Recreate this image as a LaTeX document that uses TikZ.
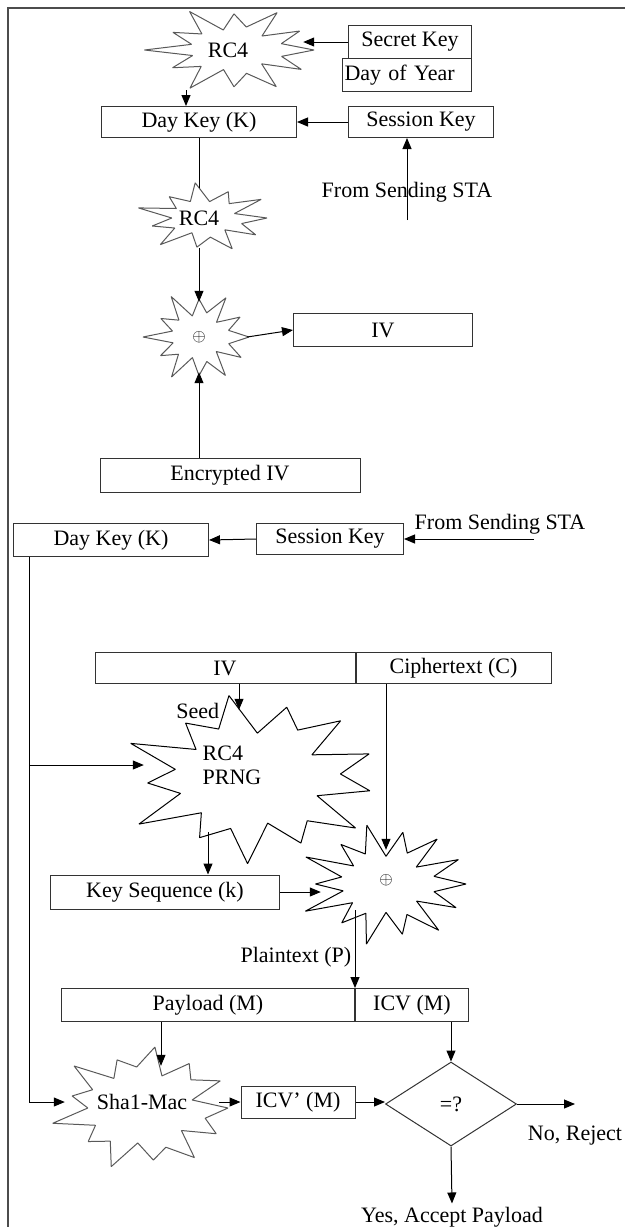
\documentclass[tikz,border=0pt]{standalone}
\usepackage{fontspec}
\setmainfont{Liberation Serif}
\usepackage{tikz}
\usetikzlibrary{shapes.geometric, arrows.meta, positioning}

\tikzset{
  box/.style={draw=black!80, rectangle, line width=1pt, inner sep=0pt, minimum height=33pt},
  blob/.style={ellipse, inner sep=0pt},
  arr/.style={-{Triangle[length=11pt,width=9pt]}, line width=1pt},
  wire/.style={line width=1pt},
  burstline/.style={line width=1pt, line join=bevel, gray!70!black},
  burst cut/.store in=\burstcut, burst cut=0.45,
  burst turn/.store in=\burstturn, burst turn=0,
  xorsign/.style={font=\fontsize{19}{19}\selectfont},
}

% jagged star drawn round a centre: [opts]{centre}{rx}{ry}{corners}
\newcommand{\burst}[5][]{%
  \pgfmathtruncatemacro\burstlast{#5-1}%
  \draw[burstline, shift={(#2)}, #1] ({cos(\burstturn)*#3},{sin(\burstturn)*#4})
    \foreach \k in {1,...,\burstlast} {
      -- ({cos(\k*360/#5+\burstturn)*#3*(1-\burstcut*mod(\k,2))*(1+0.12*sin(\k*97))},
          {sin(\k*360/#5+\burstturn)*#4*(1-\burstcut*mod(\k,2))*(1+0.12*sin(\k*97))})
    } -- cycle;}

\begin{document}
\begin{tikzpicture}[x=1pt, y=-1pt, font=\fontsize{22}{24}\selectfont]
        \useasboundingbox (0,0) rectangle (625,1227);
        \draw[line width=1.5pt, black!70] (8,1227) -- (8,8) -- (625,8);

        % Day key and IV recovery
        \node[box, minimum width=123pt] (secA) at (410,42) {Secret Key};
        \node[box, minimum width=129pt, text width=125pt, inner xsep=2pt, align=left] (yrA) at (407,75) {Day of Year};
        \node[blob, minimum width=150pt, minimum height=80pt] (rcA) at (228,50) {RC4};
        \burst[xshift=6pt]{rcA.center}{80}{40}{24}
        \node[box, minimum width=195pt, minimum height=31pt] (dayA) at (199,122) {Day Key (K)};
        \node[box, minimum width=145pt, minimum height=31pt] (sesA) at (421,122) {Session Key};
        \node (fromA) at (407,192) {From Sending STA};
        \coordinate (srcA) at (407,220);
        \node[blob, minimum width=110pt, minimum height=60pt] (rcB) at (199,218) {RC4};
        \burst[xshift=6pt]{rcB.center}{62}{32}{22}
        \node[blob, xorsign, minimum width=96pt, minimum height=70pt] (xorA) at (199,337) {$\oplus$};
        \burst{xorA.center}{50}{42}{24}
        \node[box, minimum width=179pt] (ivA) at (383,330) {IV};
        \node[box, minimum width=260pt, minimum height=34pt] (encA) at (230,475) {Encrypted IV};

        \draw[arr] (secA.west) -- (secA.west -| rcA.east);
        \draw[arr] ([xshift=-13pt]dayA.north |- rcA.south) -- ([xshift=-13pt]dayA.north);
        \draw[arr] (sesA.west) -- (dayA.east);
        \draw[arr] (srcA) -- (srcA |- sesA.south);
        \draw[wire] (dayA.south) -- (rcB.north);
        \draw[arr] (rcB.south) -- (xorA.north);
        \draw[arr] (xorA.east) -- (ivA.west);
        \draw[arr] (encA.north -| xorA.south) -- (xorA.south);

        % Decryption and integrity check
        \node[box, minimum width=195pt] (dayB) at (111,540) {Day Key (K)};
        \node[box, minimum width=147pt, minimum height=31pt] (sesB) at (330,539) {Session Key};
        \node (fromB) at (500,524) {From Sending STA};
        \coordinate (srcB) at (534,539);
        \coordinate (tap) at ([xshift=16pt]dayB.south west);
        \draw[arr] (srcB) -- (sesB.east);
        \draw[arr] (sesB.west) -- (dayB.east);

        \node[box, minimum width=260pt, minimum height=31pt] (ivB) at (225,668) {IV};
        \node[box, minimum width=195pt, minimum height=31pt, anchor=west] (ctB) at (ivB.east) {Ciphertext (C)};
        \node[blob, align=left, minimum width=176pt, minimum height=110pt] (prng) at (232,765) {RC4\\PRNG};
        \burst[black, burst cut=0.36, burst turn=-18, xshift=22pt, yshift=-13pt]{prng.center}{121}{78}{26}
        \node[box, minimum width=229pt, minimum height=34pt] (keyS) at (165,892) {Key Sequence (k)};
        \node[blob, xorsign, minimum width=130pt, minimum height=60pt] (xorB) at (386,880) {$\oplus$};
        \burst[black, yshift=-4pt]{xorB.center}{80}{56}{28}

        \draw[arr] ([xshift=14pt]ivB.south) -- ([xshift=14pt]ivB.south |- prng.north)
            node[at end, left, xshift=-16pt, yshift=-1pt] {Seed};
        \draw[arr] (tap |- prng.west) -- (prng.west);
        \draw[arr] ([xshift=-24pt, yshift=-12pt]prng.south) -- ([xshift=-24pt]prng.south |- keyS.north);
        \draw[arr] (ctB.south -| xorB.north) -- (xorB.north);
        \draw[arr] (keyS.east) -- (keyS.east -| xorB.west);

        \node[box, minimum width=293pt] (pay) at (208,1005) {Payload (M)};
        \node[box, minimum width=113pt, anchor=west] (icv) at (pay.east) {ICV (M)};
        \draw[arr] (xorB.south -| pay.north east) -- (pay.north east)
            node[pos=0.6, left] {Plaintext (P)};

        \node[blob, minimum width=154pt, minimum height=72pt] (sha) at (142,1102) {Sha1-Mac};
        \burst[burst cut=0.33, xshift=2pt, yshift=-6pt]{sha.center}{84}{57}{26}
        \node[box, minimum width=114pt, minimum height=32pt] (icvp) at (298,1102) {ICV' (M)};
        \node[draw=black!80, diamond, line width=1pt, minimum width=131pt, minimum height=84pt, inner sep=0pt] (dia) at (451,1104) {=?};
        \node (rej) at (575,1136) {No, Reject};
        \node (acc) at (452,1217) {Yes, Accept Payload};

        \draw[arr] ([xshift=-47pt]pay.south) -- ([xshift=-47pt]pay.south |- sha.north);
        \draw[arr] (tap) |- (sha.west);
        \draw[arr] (sha.east) -- (icvp.west);
        \draw[arr] (icvp.east) -- (icvp.east -| dia.west);
        \draw[arr] (icv.south -| dia.north) -- (dia.north);
        \draw[arr] (dia.east) -- (dia.east -| rej.north);
        \draw[arr] (dia.south) -- (acc.north);
    \end{tikzpicture}
\end{document}
